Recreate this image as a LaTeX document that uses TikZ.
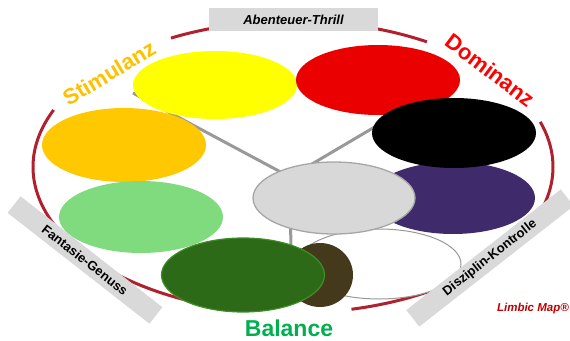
\documentclass[tikz,border=0pt]{standalone}
\usepackage{fontspec}
\setmainfont{Liberation Sans}
\usetikzlibrary{shapes.geometric}
\definecolor{ringred}{HTML}{B0202F}
\definecolor{linegray}{HTML}{999999}
\definecolor{boxgray}{HTML}{D9D9D9}
\definecolor{cYellow}{HTML}{FFFF00}
\definecolor{cRed}{HTML}{EB0000}
\definecolor{cOrange}{HTML}{FFC800}
\definecolor{cLGreen}{HTML}{80DB7E}
\definecolor{cPurple}{HTML}{3F2A6B}
\definecolor{cCenter}{HTML}{D8D8D8}
\definecolor{cCenterEdge}{HTML}{A6A6A6}
\definecolor{cBrown}{HTML}{45391C}
\definecolor{cDGreen}{HTML}{2D6A18}
\definecolor{cDGreenEdge}{HTML}{3E8E26}
\definecolor{cStim}{HTML}{FFC000}
\definecolor{cDom}{HTML}{FF0000}
\definecolor{cBal}{HTML}{00B050}
\definecolor{cLimbic}{HTML}{C00000}
\begin{document}
\begin{tikzpicture}[x=1pt,y=-1pt,
  blob/.style={ellipse, inner sep=0pt, draw=none},
  ringline/.style={draw=ringred, line width=3pt},
  hubline/.style={draw=linegray, line width=3pt},
  labelbox/.style={fill=boxgray, inner sep=0pt, font=\bfseries\fontsize{13}{13}\selectfont},
  bigword/.style={font=\bfseries\fontsize{22}{22}\selectfont, inner sep=0pt}]
\useasboundingbox (0,0) rectangle (570,340);
% ring
\draw[ringline] (293,167) ++(242:260 and 146) arc[start angle=242, end angle=301, x radius=260, y radius=146];
\draw[ringline] (293,167) ++(-18:260 and 146) arc[start angle=-18, end angle=77, x radius=260, y radius=146];
\draw[ringline] (293,167) ++(104:260 and 146) arc[start angle=104, end angle=203, x radius=260, y radius=146];
% hub lines
\coordinate (hub) at (290,177);
\coordinate (endA) at (133,93);
\coordinate (endB) at (400,112);
\coordinate (endC) at (291,255);
\draw[hubline] (hub) -- (endA);
\draw[hubline] (hub) -- (endB);
\draw[hubline] (hub) -- (endC);
% ellipses
\node[blob, fill=cYellow, minimum width=164pt, minimum height=68pt] (yellow) at (215,85) {};
\node[blob, fill=cRed, minimum width=164pt, minimum height=70pt] (red) at (378,80) {};
\node[blob, fill=cOrange, minimum width=164pt, minimum height=74pt] (orange) at (124,145) {};
\node[blob, fill=cLGreen, minimum width=164pt, minimum height=72pt] (lgreen) at (141,217) {};
\node[blob, fill=cPurple, minimum width=164pt, minimum height=72pt] (purple) at (453,198) {};
\node[blob, fill=black, minimum width=164pt, minimum height=70pt] (blackel) at (454,133) {};
\node[blob, fill=white, draw=linegray, line width=1pt, minimum width=164pt, minimum height=70pt] (whiteel) at (379,264) {};
\node[blob, fill=cCenter, draw=cCenterEdge, line width=1.3pt, minimum width=162pt, minimum height=72pt] (center) at (334,198) {};
\node[blob, fill=cBrown, minimum width=66pt, minimum height=64pt] (brown) at (320,275) {};
\node[blob, fill=cDGreen, draw=cDGreenEdge, line width=1.2pt, minimum width=163pt, minimum height=74pt] (dgreen) at (243,275) {};
% boxes
\node[labelbox, minimum width=169pt, minimum height=23pt] (thrill) at (293.5,19.5) {\itshape Abenteuer-Thrill};
\node[labelbox, minimum width=180pt, minimum height=21pt, rotate=-38] (fantasie) at (85,260) {Fantasie-Genuss};
\node[labelbox, minimum width=196pt, minimum height=21pt, rotate=38] (disziplin) at (490,258) {Disziplin-Kontrolle};
% big words
\node[bigword, text=cStim, rotate=31] (stim) at (109,73) {Stimulanz};
\node[bigword, text=cDom, rotate=-37] (dom) at (490,70) {Dominanz};
\node[bigword, text=cBal, font=\bfseries\fontsize{23}{23}\selectfont] (bal) at (289,328) {Balance};
\node[text=cLimbic, inner sep=0pt, anchor=east, font=\bfseries\itshape\fontsize{11.5}{11.5}\selectfont] (limbic) at (569,309) {Limbic Map®};
\end{tikzpicture}
\end{document}
